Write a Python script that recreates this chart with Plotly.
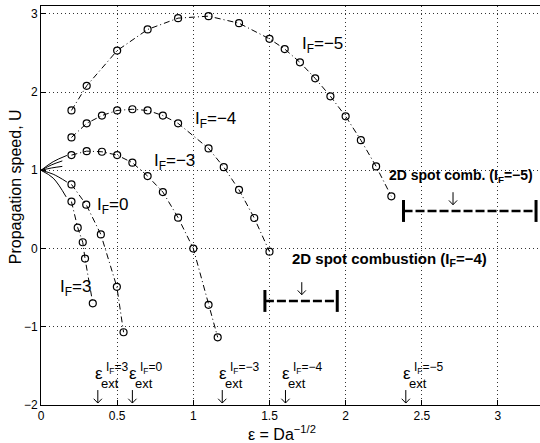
import plotly.graph_objects as go

# ---- data ----
eps_m5 = [0.2, 0.3, 0.5, 0.7, 0.9, 1.1, 1.3, 1.5, 1.6, 1.7, 1.8, 1.9, 2.0, 2.1, 2.2, 2.3]
U_m5 = [1.765, 2.08, 2.53, 2.80, 2.945, 2.97, 2.88, 2.68, 2.55, 2.38, 2.175, 1.946, 1.69, 1.385, 1.05, 0.667]

eps_m4 = [0.2, 0.3, 0.4, 0.5, 0.6, 0.7, 0.8, 0.9, 1.1, 1.2, 1.3, 1.4, 1.5]
U_m4 = [1.42, 1.60, 1.70, 1.765, 1.78, 1.765, 1.70, 1.60, 1.28, 1.04, 0.75, 0.39, -0.04]

eps_m3 = [0.2, 0.3, 0.4, 0.5, 0.6, 0.7, 0.8, 0.9, 1.0, 1.1, 1.16]
U_m3 = [1.194, 1.245, 1.237, 1.194, 1.097, 0.926, 0.722, 0.395, 0.0, -0.72, -1.135]

eps_0 = [0.2, 0.297, 0.393, 0.498, 0.542]
U_0 = [0.82, 0.56, 0.18, -0.49, -1.07]

eps_p3 = [0.2, 0.241, 0.274, 0.289, 0.34]
U_p3 = [0.60, 0.267, 0.08, -0.128, -0.70]

# small-eps asymptotic branches (thin solid lines from U=1)
fan_eps = [[0, 0.08, 0.17], [0, 0.07, 0.14], [0, 0.07, 0.14], [0, 0.08, 0.17], [0, 0.08, 0.165]]
fan_U = [[1, 1.11, 1.19], [1, 1.07, 1.12], [1, 1.03, 1.05], [1, 0.95, 0.85], [1, 0.9, 0.66]]

curve_labels = ["−5", "−4", "−3", "0", "3"]
label_x = [1.70, 1.00, 0.73, 0.355, 0.11]
label_y = [2.60, 1.64, 1.10, 0.55, -0.50]

# 2D spot combustion intervals
spot_lo = [2.38, 1.47]
spot_hi = [3.25, 1.945]
spot_U = [0.48, -0.67]
spot_arrow = [2.705, 1.712]
spot_text = ["2D spot comb. (I<sub>F</sub>=−5)", "2D spot combustion (I<sub>F</sub>=−4)"]
spot_text_x = [2.27, 1.635]
spot_text_y = [0.925, -0.145]
spot_text_size = [14, 15]

# extinction points
ext_eps = [0.373, 0.60, 1.19, 1.605, 2.395]
ext_labels = ["3", "0", "−3", "−4", "−5"]

x_ticks = [0, 0.5, 1, 1.5, 2, 2.5, 3]
y_ticks = [-2, -1, 0, 1, 2, 3]

fig = go.Figure()
FONT = "Liberation Sans, Arial, Helvetica, sans-serif"


def add_down_arrows(xs, tips, length=0.166, hw=0.027, hh=0.055):
    px, py = [], []
    for x, t in zip(xs, tips):
        px += [x, x, None, x - hw, x, x + hw, None]
        py += [t + length, t, None, t + hh, t, t + hh, None]
    fig.add_trace(go.Scatter(x=px, y=py, mode="lines", line=dict(color="black", width=1),
                             showlegend=False, hoverinfo="skip"))


for ex, uy in zip(fan_eps, fan_U):
    fig.add_trace(go.Scatter(x=ex, y=uy, mode="lines", line=dict(color="black", width=1, shape="spline"),
                             showlegend=False, hoverinfo="skip"))

for ex, uy in [(eps_m5, U_m5), (eps_m4, U_m4), (eps_m3, U_m3), (eps_0, U_0), (eps_p3, U_p3)]:
    fig.add_trace(go.Scatter(x=ex, y=uy, mode="lines+markers",
                             line=dict(color="black", width=1, dash="6px,3px,1px,3px"),
                             marker=dict(symbol="circle-open", size=7, color="black", line=dict(width=1.2)),
                             showlegend=False))

for lo, hi, u in zip(spot_lo, spot_hi, spot_U):
    fig.add_trace(go.Scatter(x=[lo, hi], y=[u, u], mode="lines",
                             line=dict(color="black", width=2.5, dash="9px,3px"), showlegend=False))
    for xe in (lo, hi):
        fig.add_trace(go.Scatter(x=[xe, xe], y=[u - 0.14, u + 0.14], mode="lines",
                                 line=dict(color="black", width=3), showlegend=False))

add_down_arrows(spot_arrow, [u + 0.08 for u in spot_U], length=0.16)
add_down_arrows(ext_eps, [y_ticks[0] + 0.025 for _ in ext_eps])

ann = []
for t, x, y in zip(curve_labels, label_x, label_y):
    ann.append(dict(x=x, y=y, text="I<sub>F</sub>=" + t, showarrow=False, xanchor="left", yanchor="middle",
                    font=dict(size=17, family=FONT, color="black")))
for t, x, y, s in zip(spot_text, spot_text_x, spot_text_y, spot_text_size):
    ann.append(dict(x=x, y=y, text="<b>" + t + "</b>", showarrow=False, xanchor="left", yanchor="middle",
                    font=dict(size=s, family=FONT, color="black")))
for x, t in zip(ext_eps, ext_labels):
    ann.append(dict(x=x, y=-2, text="ε", showarrow=False, yanchor="middle", xanchor="center", xshift=1, yshift=32,
                    font=dict(size=17, family=FONT, color="black")))
    ann.append(dict(x=x, y=-2, text="I<sub>F</sub>=" + t, showarrow=False, yanchor="middle", xanchor="left",
                    xshift=6, yshift=37, font=dict(size=12, family=FONT, color="black")))
    ann.append(dict(x=x, y=-2, text="ext", showarrow=False, yanchor="middle", xanchor="left",
                    xshift=1, yshift=22, font=dict(size=13, family=FONT, color="black")))

ann.append(dict(x=-0.052, y=0.546, xref="paper", yref="paper", text="Propagation speed, U", textangle=-90,
                xanchor="center", yanchor="middle",
                showarrow=False, font=dict(size=16, family=FONT, color="black")))
ann.append(dict(x=(282 - 41) / 499, y=-0.069, xref="paper", yref="paper", text="ε = Da<sup>−1/2</sup>",
                showarrow=False, xanchor="center", yanchor="middle", font=dict(size=16, family=FONT, color="black")))

grid = dict(showgrid=True, gridcolor="#333", griddash="1px,3px", gridwidth=1, zeroline=False,
            ticks="inside", ticklen=5, tickcolor="black", linecolor="black", linewidth=1, showline=True,
            tickfont=dict(size=12, family=FONT, color="black"))

fig.update_layout(
    width=540, height=443, margin=dict(l=41, r=0, t=6, b=38),
    plot_bgcolor="white", paper_bgcolor="white",
    xaxis=dict(range=[0, 3.276], tickvals=x_ticks, ticktext=[str(v) for v in x_ticks], mirror=True, **grid),
    yaxis=dict(range=[-2, 3.1], tickvals=y_ticks, ticktext=[str(v) if v >= 0 else "−" + str(-v) for v in y_ticks],
               mirror=False, **grid),
    annotations=ann, showlegend=False,
)
fig.write_html("out.html")
